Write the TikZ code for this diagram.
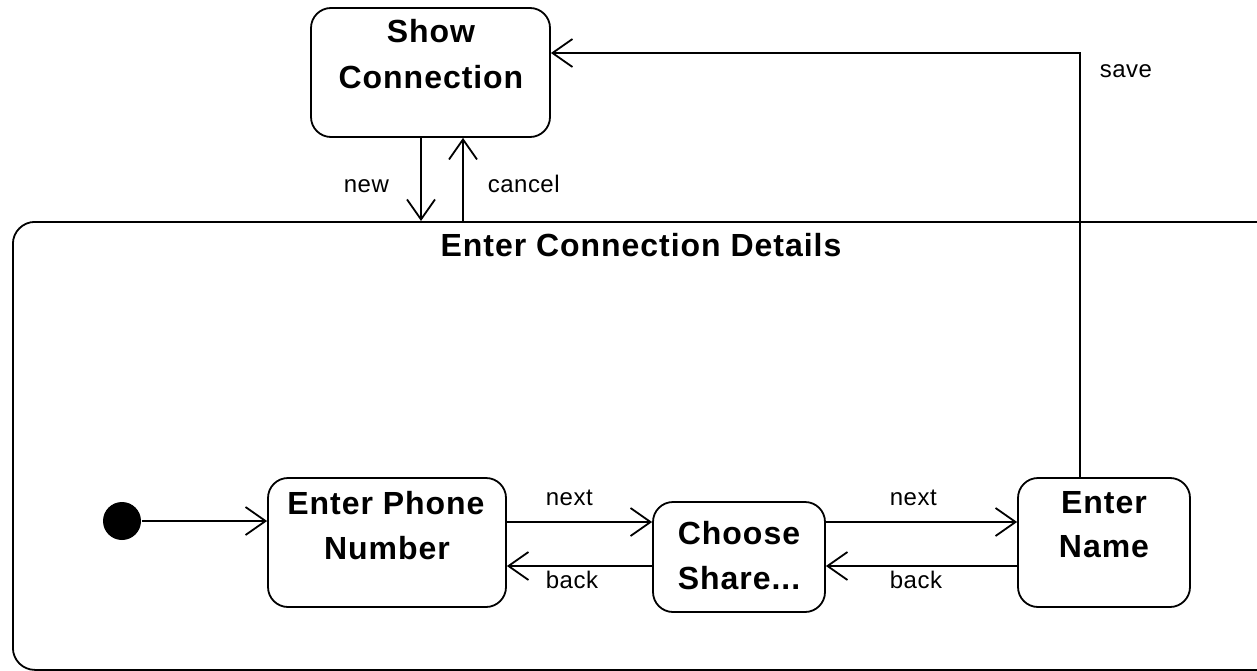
\documentclass[tikz,border=0pt]{standalone}
\usepackage{fontspec}
\setmainfont{Liberation Sans}
\newfontfamily\statefont[LetterSpace=3]{Liberation Sans}
\newfontfamily\labelfont[LetterSpace=2]{Liberation Sans}
\usetikzlibrary{arrows.meta}
\begin{document}
\begin{tikzpicture}[x=1pt,y=-1pt, line width=1.8pt,
  state/.style={draw, rounded corners=20pt, inner sep=0pt},
  stxt/.style={font=\statefont\bfseries\fontsize{32}{38}\selectfont, anchor=base, inner sep=0pt},
  lbl/.style={font=\labelfont\fontsize{24}{28}\selectfont, anchor=base west, inner sep=0pt},
  tr/.style={-{Straight Barb[length=20pt,width=28pt]}}
]
\useasboundingbox (0,0) rectangle (1257,671);
\clip (0,0) rectangle (1257,671);

% helper coordinates
\coordinate (nA) at (0,522);
\coordinate (nB) at (0,566);
\coordinate (cx1) at (421,0);
\coordinate (cx2) at (463,0);
\coordinate (cx3) at (1080,0);
\coordinate (cy) at (0,53);

% composite state frame
\node[state, rounded corners=22pt, minimum width=1288pt, minimum height=448pt, anchor=north west] (frame) at (12,221) {};
\node[stxt] (framet) at (641,256) {Enter Connection Details};

% states
\node[state, minimum width=239pt, minimum height=129pt] (sc) at (430.5,72.5) {};
\node[stxt] (sc1) at (431,43) {Show};
\node[stxt] (sc2) at (431,89) {Connection};

\node[state, minimum width=238pt, minimum height=129pt] (epn) at (387,542.5) {};
\node[stxt] (epn1) at (386,514) {Enter Phone};
\node[stxt] (epn2) at (387,559) {Number};

\node[state, minimum width=172pt, minimum height=110pt] (cs) at (739,557) {};
\node[stxt] (cs1) at (739,544) {Choose};
\node[stxt] (cs2) at (739,589) {Share...};

\node[state, minimum width=172pt, minimum height=129pt] (en) at (1104,542.5) {};
\node[stxt] (en1) at (1104,513) {Enter};
\node[stxt] (en2) at (1104,557) {Name};

% initial state
\node[circle, fill=black, minimum size=38pt, inner sep=0pt] (init) at (122,521) {};

% transitions
\draw[tr] (init.east) -- (epn.west |- init);
\draw[tr] (epn.east |- nA) -- (cs.west |- nA);
\draw[tr] (cs.west |- nB) -- (epn.east |- nB);
\draw[tr] (cs.east |- nA) -- (en.west |- nA);
\draw[tr] (en.west |- nB) -- (cs.east |- nB);
\draw[tr] (sc.south -| cx1) -- (frame.north -| cx1);
\draw[tr] (frame.north -| cx2) -- (sc.south -| cx2);
\draw[tr] (en.north -| cx3) -- (cx3 |- cy) -- (sc.east |- cy);

% labels
\node[lbl] (lnew) at (343,193) {new};
\node[lbl] (lcancel) at (487,193) {cancel};
\node[lbl] (lsave) at (1099,78) {save};
\node[lbl] (lnext1) at (545,505) {next};
\node[lbl] (lback1) at (545,588) {back};
\node[lbl] (lnext2) at (889,505) {next};
\node[lbl] (lback2) at (889,588) {back};
\end{tikzpicture}
\end{document}
